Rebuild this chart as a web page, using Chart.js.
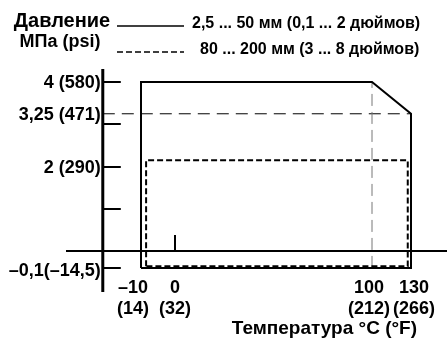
<!DOCTYPE html>
<html>
<head>
<meta charset="utf-8">
<script src="https://cdn.jsdelivr.net/npm/chart.js@4"></script>
<style>
  html, body { margin: 0; padding: 0; background: #fff; }
  #wrap { width: 447px; height: 345px; }
</style>
</head>
<body>
<div id="wrap"><canvas id="grafico" width="447" height="345"></canvas></div>
<script>
// series: temperature °C / pressure MPa
const seriesNames = ['2,5 ... 50 мм (0,1 ... 2 дюймов)', '80 ... 200 мм (3 ... 8 дюймов)'];
const smallTemp = [-10, -10, 100, 130, 130, -10];
const smallPress = [-0.1, 4, 4, 3.25, -0.1, -0.1];
const largeTemp = [-8.5, -8.5, 127.5, 127.5, -8.5];
const largePress = [-0.09, 2.15, 2.15, -0.09, -0.09];

// reference lines
const limitTemp = 100;
const limitPress = 3.25;

// axes
const yTickValues = [4, 3, 2, 1, -0.1];
const yLabelValues = [4, 3.25, 2, -0.1];
const yLabels = ['4 (580)', '3,25 (471)', '2 (290)', '–0,1(–14,5)'];
const xLabelValues = [-10, 0, 100, 130];
const xLabels = [['–10', '(14)'], ['0', '(32)'], ['100', '(212)'], ['130', '(266)']];
const yTitle = ['Давление', 'МПа (psi)'];
const xTitle = 'Температура °C (°F)';

// the drawing is schematic, so both axes are broken (piecewise linear)
const xKnots = { from: [-31, -10, 0, 100, 130, 158], to: [0, 75, 109, 306, 345, 381] };
const yKnots = { from: [-0.24, -0.1, 0, 4.31], to: [-0.97, -0.4, 0, 4.31] };
const yAxisAt = -20.7;

function piece(v, a, b) {
    let i = 0;
    while (i < a.length - 2 && v > a[i + 1]) i++;
    return b[i] + (v - a[i]) * (b[i + 1] - b[i]) / (a[i + 1] - a[i]);
}

class PieceScale extends Chart.LinearScale {
    knots() { return this.axis === 'x' ? xKnots : yKnots; }
    getPixelForValue(v) {
        const k = this.knots();
        return super.getPixelForValue(piece(v, k.from, k.to));
    }
    getValueForPixel(p) {
        const k = this.knots();
        return piece(super.getValueForPixel(p), k.to, k.from);
    }
}
PieceScale.id = 'piece';
PieceScale.defaults = Chart.LinearScale.defaults;
Chart.register(PieceScale);

function pts(xs, ys) {
    return xs.map((x, i) => ({ x: x, y: ys[i] }));
}

const FONT = '"Liberation Sans", Arial, sans-serif';

// small nudges so the crowded labels don't collide
function labelShift(v) {
    if (v < 0) return -8;
    if (v === 100) return -3;
    if (v === 130) return 3;
    return 0;
}

const axesPlugin = {
    id: 'schemaAxes',
    afterDatasetsDraw(chart) {
        const ctx = chart.ctx;
        const xs = chart.scales.x, ys = chart.scales.y;
        const area = chart.chartArea;
        const ax = xs.getPixelForValue(yAxisAt);
        const ay = ys.getPixelForValue(0);
        ctx.save();
        ctx.strokeStyle = '#000';
        ctx.fillStyle = '#000';
        ctx.setLineDash([]);

        // x axis
        ctx.lineWidth = 2;
        ctx.beginPath();
        ctx.moveTo(area.left, ay);
        ctx.lineTo(area.right, ay);
        ctx.stroke();

        // y axis
        ctx.lineWidth = 3;
        ctx.beginPath();
        ctx.moveTo(ax, area.top);
        ctx.lineTo(ax, area.bottom);
        ctx.stroke();

        // y ticks
        ctx.lineWidth = 2;
        yTickValues.forEach(v => {
            const y = Math.round(ys.getPixelForValue(v));
            ctx.beginPath();
            ctx.moveTo(ax, y);
            ctx.lineTo(ax + 18, y);
            ctx.stroke();
        });

        // x tick at 0
        const x0 = xs.getPixelForValue(0);
        ctx.beginPath();
        ctx.moveTo(x0, ay);
        ctx.lineTo(x0, ay - 16);
        ctx.stroke();

        // y labels
        ctx.font = 'bold 18px ' + FONT;
        ctx.textAlign = 'right';
        ctx.textBaseline = 'middle';
        yLabelValues.forEach((v, i) => {
            ctx.fillText(yLabels[i], ax - 2, ys.getPixelForValue(v) + (v < 0 ? 3 : 1));
        });

        // x labels
        ctx.textAlign = 'center';
        xLabelValues.forEach((v, i) => {
            const x = xs.getPixelForValue(v) + labelShift(v);
            ctx.fillText(xLabels[i][0], x, 288);
            ctx.fillText(xLabels[i][1], x, 309);
        });

        // x title
        ctx.font = 'bold 19px ' + FONT;
        ctx.textAlign = 'right';
        ctx.fillText(xTitle, 417, 329);

        // legend / y title
        ctx.textBaseline = 'alphabetic';
        ctx.textAlign = 'center';
        ctx.font = 'bold 20px ' + FONT;
        ctx.fillText(yTitle[0], 62, 27);
        ctx.font = 'bold 18px ' + FONT;
        ctx.fillText(yTitle[1], 60, 47);

        ctx.textBaseline = 'middle';
        chart.data.datasets.slice(0, 2).forEach((ds, i) => {
            const y = i === 0 ? 26 : 52;
            ctx.lineWidth = 1.5;
            ctx.setLineDash(ds.borderDash || []);
            ctx.beginPath();
            ctx.moveTo(117, y);
            ctx.lineTo(184, y);
            ctx.stroke();
            ctx.setLineDash([]);
            ctx.font = 'bold 16px ' + FONT;
            ctx.textAlign = 'left';
            ctx.fillText(ds.label, i === 0 ? 192 : 200, i === 0 ? 24 : 50);
        });
        ctx.restore();
    }
};

new Chart(document.getElementById('grafico'), {
    type: 'line',
    data: {
        datasets: [
            {
                label: seriesNames[0],
                data: pts(smallTemp, smallPress),
                borderColor: '#000',
                borderWidth: 2,
                pointRadius: 0,
                tension: 0
            },
            {
                label: seriesNames[1],
                data: pts(largeTemp, largePress),
                borderColor: '#000',
                borderWidth: 2,
                borderDash: [6, 3],
                pointRadius: 0,
                tension: 0
            },
            {
                label: 'limit T',
                data: pts([limitTemp, limitTemp], [-0.1, 4]),
                borderColor: '#777',
                borderWidth: 1,
                borderDash: [12, 6],
                pointRadius: 0
            },
            {
                label: 'limit P',
                data: pts([yAxisAt, 130], [limitPress, limitPress]),
                borderColor: '#000',
                borderWidth: 1,
                borderDash: [12, 7],
                pointRadius: 0
            }
        ]
    },
    options: {
        responsive: false,
        animation: false,
        layout: { padding: { left: 66, right: 0, top: 69, bottom: 53 } },
        plugins: { legend: { display: false }, tooltip: { enabled: false } },
        scales: {
            x: { type: 'piece', min: 0, max: 381, display: false },
            y: { type: 'piece', min: -0.97, max: 4.31, display: false }
        }
    },
    plugins: [axesPlugin]
});
</script>
</body>
</html>
